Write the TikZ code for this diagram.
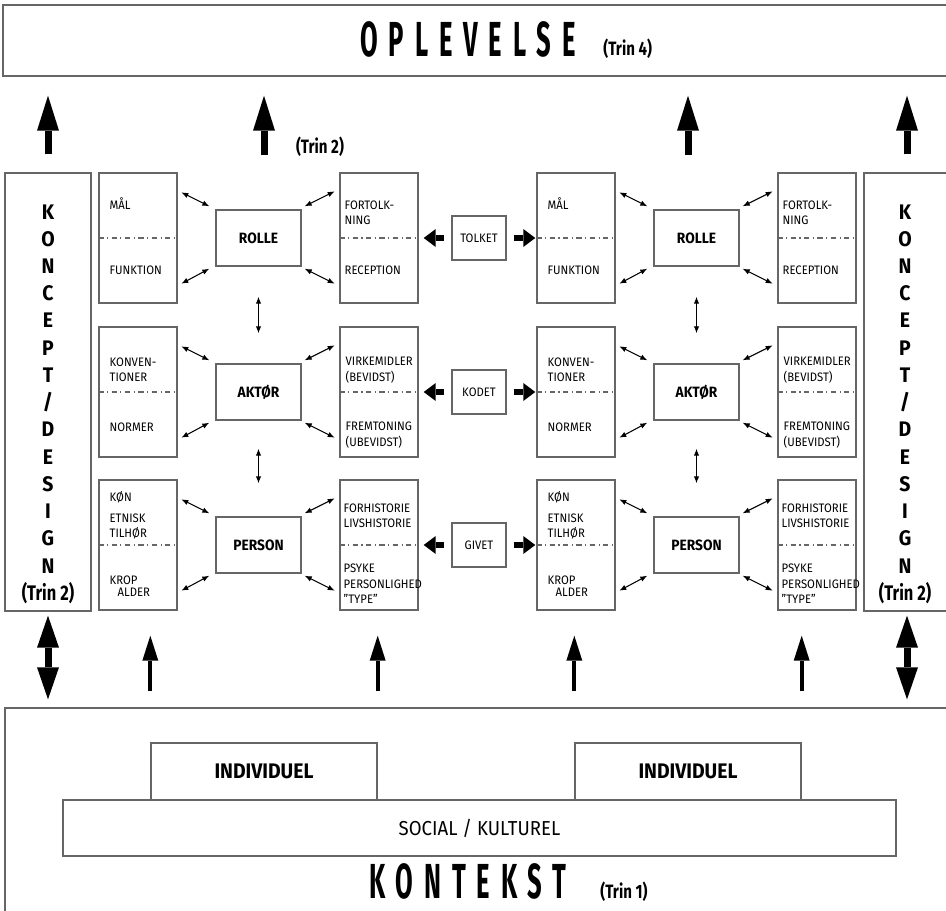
\documentclass[tikz,border=0pt]{standalone}
\usepackage{fontspec}
\setmainfont{Fira Sans}[FakeStretch=0.92]
\newfontfamily\titlefont{Fira Sans}[FakeStretch=0.52,LetterSpace=22]
\newfontfamily\trinfont{Fira Sans}[FakeStretch=0.78]
\usetikzlibrary{arrows.meta, calc}

\begin{document}
\begin{tikzpicture}[x=0.02cm, y=-0.02cm,
    box/.style={draw=black!60, line width=0.8pt, rectangle, inner sep=0pt},
    sidebox/.style={box, minimum width=1.56cm, minimum height=2.6cm},
    corebox/.style={box, minimum width=1.7cm, minimum height=1.12cm,
                    font=\fontsize{8.5}{10}\selectfont\bfseries},
    midbox/.style={box, minimum width=1.08cm, minimum height=0.88cm,
                   font=\fontsize{7}{8.8}\selectfont},
    txt/.style={anchor=west, align=left, inner sep=0pt,
                font=\fontsize{7}{8.8}\selectfont},
    koncept/.style={align=center, inner sep=0pt,
                    font=\fontsize{12}{15.5}\selectfont\bfseries},
    trin/.style={inner sep=0pt, font=\trinfont\fontsize{11}{13}\selectfont\bfseries},
    title/.style={anchor=base, inner sep=0pt,
                  font=\titlefont\fontsize{28}{30}\selectfont\bfseries},
    divider/.style={black!60, line width=0.6pt, dash dot},
    bigup/.style={line width=0.14cm,
                  -{Triangle[length=0.7cm, width=0.44cm, line width=0pt]}},
    lowup/.style={line width=0.08cm,
                  -{Triangle[length=0.5cm, width=0.32cm, line width=0pt]}},
    bothway/.style={line width=0.14cm,
                    {Triangle[length=0.64cm, width=0.44cm, line width=0pt]}-{Triangle[length=0.64cm, width=0.44cm, line width=0pt]}},
    fat/.style={line width=0.12cm,
                -{Triangle[length=0.24cm, width=0.36cm, line width=0pt]}},
    smallarr/.style={line width=0.6pt,
                     {Latex[length=1.4mm, width=1.1mm]}-{Latex[length=1.4mm, width=1.1mm]}}]
    \useasboundingbox (0,0) rectangle (946,910);
    \clip (0,0) rectangle (946,910);

    % experience (top)
    \node[box, minimum width=19.14cm, minimum height=1.42cm] (oplevelse) at (481.5,40.5) {};
    \node[title] (oplevtxt) at (468,56) {OPLEVELSE};
    \node[trin, anchor=base west] (trin4) at (603,55) {(Trin 4)};

    % concept / design columns
    \node[box, minimum width=1.72cm, minimum height=8.76cm] (koncL) at (48,392) {};
    \node[box, minimum width=1.72cm, minimum height=8.76cm] (koncR) at (907,392) {};
    \node[koncept] (koncLtxt) at ($(koncL)+(0,12)$)
      {K\\O\\N\\C\\E\\P\\T\\/\\D\\E\\S\\I\\G\\N\\{\trinfont (Trin 2)}};
    \node[koncept] (koncRtxt) at ($(koncR)+(-2,12)$)
      {K\\O\\N\\C\\E\\P\\T\\/\\D\\E\\S\\I\\G\\N\\{\trinfont (Trin 2)}};

    % the two mirrored groups
    \foreach \s/\g in {0/L,438/R} {
      % row 1
      \node[sidebox] (mal\g) at (138+\s,238) {};
      \node[corebox] (rolle\g) at (258.5+\s,238) {ROLLE};
      \node[sidebox] (fort\g) at (379+\s,238) {};
      % row 2
      \node[sidebox] (konv\g) at (138+\s,392) {};
      \node[corebox] (aktor\g) at (258.5+\s,392) {AKTØR};
      \node[sidebox] (virk\g) at (379+\s,392) {};
      % row 3
      \node[sidebox] (kon\g) at (138+\s,545) {};
      \node[corebox] (person\g) at (258.5+\s,545) {PERSON};
      \node[sidebox] (forh\g) at (379+\s,545) {};

      \foreach \b in {mal,fort,konv,virk,kon,forh}
        \draw[divider] (\b\g.west) -- (\b\g.east);

      % texts in the side boxes
      \node[txt] (tmal\g)  at ($(mal\g.west)+(11,-34)$) {MÅL};
      \node[txt] (tfunk\g) at ($(mal\g.west)+(11,32)$)  {FUNKTION};
      \node[txt] (tfort\g) at ($(fort\g.west)+(5,-25.5)$) {FORTOLK-\\NING};
      \node[txt] (trec\g)  at ($(fort\g.west)+(5,32)$)  {RECEPTION};
      \node[txt] (tkonv\g) at ($(konv\g.west)+(11,-22)$) {KONVEN-\\TIONER};
      \node[txt] (tnorm\g) at ($(konv\g.west)+(11,35)$) {NORMER};
      \node[txt] (tvirk\g) at ($(virk\g.west)+(6,-22)$) {VIRKEMIDLER\\(BEVIDST)};
      \node[txt] (tfrem\g) at ($(virk\g.west)+(6,43)$)  {FREMTONING\\(UBEVIDST)};
      \node[txt] (tkon\g)  at ($(kon\g.west)+(11,-48)$) {KØN};
      \node[txt] (tetn\g)  at ($(kon\g.west)+(11,-18.5)$) {ETNISK\\TILHØR};
      \node[txt] (tkrop\g) at ($(kon\g.west)+(11,41)$)  {KROP\\[-1.7pt]\hspace*{0.16cm}ALDER};
      \node[txt] (tforh\g) at ($(forh\g.west)+(4,-29.5)$) {FORHISTORIE\\LIVSHISTORIE};
      \node[txt] (tpsy\g)  at ($(forh\g.west)+(4,39)$)  {PSYKE\\PERSONLIGHED\\"TYPE"};

      % small arrows round the core boxes
      \foreach \c in {rolle,aktor,person} {
        \draw[smallarr] ([shift={(-34,-17)}]\c\g.north west) -- ([shift={(-6,-3)}]\c\g.north west);
        \draw[smallarr] ([shift={(-34,17)}]\c\g.south west) -- ([shift={(-6,2)}]\c\g.south west);
        \draw[smallarr] ([shift={(3,-3)}]\c\g.north east) -- ([shift={(33,-18)}]\c\g.north east);
        \draw[smallarr] ([shift={(3,2)}]\c\g.south east) -- ([shift={(33,17)}]\c\g.south east);
      }
      \draw[smallarr, shorten <=0.6cm, shorten >=0.6cm] (rolle\g) -- (aktor\g);
      \draw[smallarr, shorten <=0.56cm, shorten >=0.66cm] (aktor\g) -- (person\g);
    }

    % middle boxes
    \node[midbox] (tolket) at (479,238) {TOLKET};
    \node[midbox] (kodet)  at (479,392) {KODET};
    \node[midbox] (givet)  at (479,545) {GIVET};
    \foreach \m/\a/\b in {tolket/fortL/malR, kodet/virkL/konvR, givet/forhL/konR} {
      \draw[fat, shorten <=0.14cm, shorten >=0.1cm] (\m.west) -- (\a.east);
      \draw[fat, shorten <=0.14cm, shorten >=0.02cm] (\m.east) -- (\b.west);
    }

    % context (bottom)
    \node[box, minimum width=19.1cm, minimum height=4.44cm] (kontekst) at (482.5,819) {};
    \node[box, minimum width=4.52cm, minimum height=1.14cm,
          font=\fontsize{12}{14}\selectfont\bfseries] (indL) at (264,771.5) {INDIVIDUEL};
    \node[box, minimum width=4.52cm, minimum height=1.14cm,
          font=\fontsize{12}{14}\selectfont\bfseries] (indR) at (688,771.5) {INDIVIDUEL};
    \node[box, minimum width=16.66cm, minimum height=1.12cm,
          font=\fontsize{11.5}{14}\selectfont] (social) at (479.5,828) {SOCIAL / KULTUREL};
    \node[title] (kontxt) at (468,898) {KONTEKST};
    \node[trin, anchor=base west] (trin1) at (600,898) {(Trin 1)};

    % arrows up to the experience
    \coordinate (upA) at (264,173);
    \coordinate (upB) at (688,173);
    \foreach \u in {koncL.north, upA, upB, koncR.north}
      \draw[bigup, shorten <=0.36cm, shorten >=0.38cm] (\u) -- (\u |- oplevelse.south);
    \node[trin] (trin2) at (320,147) {(Trin 2)};

    % arrows up from the context
    \foreach \c in {indL.north west, indL.north east, indR.north west, indR.north east}
      \draw[lowup, shorten <=0.32cm, shorten >=0.5cm] (\c |- kontekst.north) -- (\c |- konL.south);
    \foreach \k in {koncL, koncR}
      \draw[bothway, shorten <=0.08cm, shorten >=0.16cm] (\k.south) -- (\k.south |- kontekst.north);
\end{tikzpicture}
\end{document}
